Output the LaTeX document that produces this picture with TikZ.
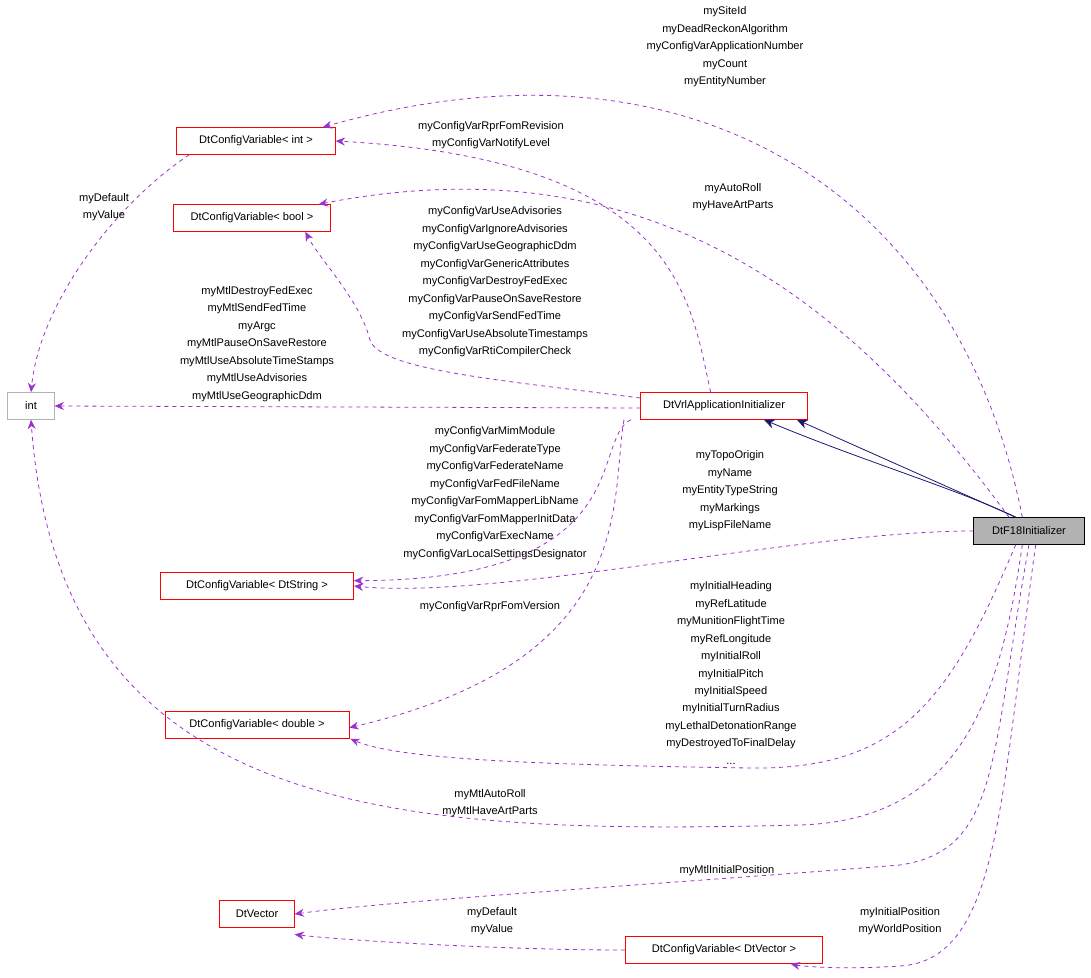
\documentclass[tikz,border=0pt]{standalone}
\usepackage{fontspec}
\setmainfont{Liberation Sans}
\usetikzlibrary{arrows.meta}
\definecolor{dp}{HTML}{9A32CD}
\definecolor{nv}{HTML}{191970}
\begin{document}
\begin{tikzpicture}[x=0.75pt,y=-0.75pt,
 box/.style={draw=red,fill=white,minimum height=20.25pt,inner sep=2pt,font=\fontsize{8.3}{10}\selectfont},
 lab/.style={font=\fontsize{8.3}{13.1}\selectfont,align=center,inner sep=0pt},
 dep/.style={draw=dp,dashed,-{Stealth[length=7pt,width=6pt]},semithick},
 inh/.style={draw=nv,-{Stealth[length=8pt,width=7pt]},semithick}]
\useasboundingbox (0,0) rectangle (1091,977);
\node[box,minimum width=119pt] (ci) at (256,141) {DtConfigVariable< int >};
\node[box,minimum width=118pt] (cb) at (252,218) {DtConfigVariable< bool >};
\node[box,draw=gray!60,minimum width=35pt] (int) at (31,406) {int};
\node[box,minimum width=125pt] (vrl) at (724,406) {DtVrlApplicationInitializer};
\node[box,draw=black,fill=gray!60,minimum width=83pt] (f18) at (1029,531) {DtF18Initializer};
\node[box,minimum width=145pt] (cs) at (257,586) {DtConfigVariable< DtString >};
\node[box,minimum width=138pt] (cd) at (257,725) {DtConfigVariable< double >};
\node[box,minimum width=56pt] (vec) at (257,914) {DtVector};
\node[box,minimum width=148pt] (cv) at (724,950) {DtConfigVariable< DtVector >};
\coordinate (ft) at ([xshift=-10]f18.north);

\draw[inh] (ft) .. controls (960,490) and (860,460) .. ([xshift=30]vrl.south);
\draw[inh] (ft) -- ([xshift=-8]vrl.south east);

\draw[dep] ([xshift=-5]f18.north) .. controls (960,200) and (700,20) .. ([xshift=50]ci.north);
\node[lab] (l1) at (725,47) {mySiteId\\myDeadReckonAlgorithm\\myConfigVarApplicationNumber\\myCount\\myEntityNumber};
\draw[dep] ([xshift=-10]vrl.north) .. controls (690,300) and (680,160) .. (ci.east);
\node[lab] (l2) at (491,135) {myConfigVarRprFomRevision\\myConfigVarNotifyLevel};
\draw[dep] ([xshift=-15]f18.north) .. controls (850,300) and (650,140) .. ([xshift=50]cb.north);
\node[lab] (l3) at (733,197) {myAutoRoll\\myHaveArtParts};
\draw[dep] ([xshift=-50]ci.south) .. controls (120,200) and (40,300) .. (int.north);
\node[lab] (l4) at (104,207) {myDefault\\myValue};
\draw[dep] (vrl.west) ++(0,-8) .. controls (500,380) and (380,370) .. (370,340) .. controls (360,300) and (320,260) .. ([xshift=40]cb.south);
\node[lab] (l5) at (495,282) {myConfigVarUseAdvisories\\myConfigVarIgnoreAdvisories\\myConfigVarUseGeographicDdm\\myConfigVarGenericAttributes\\myConfigVarDestroyFedExec\\myConfigVarPauseOnSaveRestore\\myConfigVarSendFedTime\\myConfigVarUseAbsoluteTimestamps\\myConfigVarRtiCompilerCheck};
\draw[dep] (vrl.west) ++(0,2) -- (int.east);
\node[lab] (l6) at (257,344) {myMtlDestroyFedExec\\myMtlSendFedTime\\myArgc\\myMtlPauseOnSaveRestore\\myMtlUseAbsoluteTimeStamps\\myMtlUseAdvisories\\myMtlUseGeographicDdm};
\draw[dep] ([xshift=-70]vrl.south) .. controls (590,440) and (640,580) .. ([yshift=4]cs.east);
\node[lab] (l7) at (495,493) {myConfigVarMimModule\\myConfigVarFederateType\\myConfigVarFederateName\\myConfigVarFedFileName\\myConfigVarFomMapperLibName\\myConfigVarFomMapperInitData\\myConfigVarExecName\\myConfigVarLocalSettingsDesignator};
\draw[dep] ([xshift=-75]vrl.south) .. controls (610,500) and (640,660) .. ([yshift=-2]cd.east);
\node[lab] (l8) at (490,607) {myConfigVarRprFomVersion};
\draw[dep] (f18.west) .. controls (800,531) and (500,600) .. (cs.east);
\node[lab] (l9) at (730,491) {myTopoOrigin\\myName\\myEntityTypeString\\myMarkings\\myLispFileName};
\draw[dep] ([xshift=-10]f18.south) .. controls (950,700) and (900,770) .. (750,768) .. controls (550,765) and (400,760) .. ([xshift=70]cd.south);
\node[lab] (l10) at (731,673) {myInitialHeading\\myRefLatitude\\myMunitionFlightTime\\myRefLongitude\\myInitialRoll\\myInitialPitch\\myInitialSpeed\\myInitialTurnRadius\\myLethalDetonationRange\\myDestroyedToFinalDelay\\...};
\draw[dep] ([xshift=-5]f18.south) .. controls (1000,700) and (960,820) .. (800,825) .. controls (400,835) and (60,820) .. (int.south);
\node[lab] (l11) at (490,803) {myMtlAutoRoll\\myMtlHaveArtParts};
\draw[dep] (f18.south) .. controls (990,760) and (1000,850) .. (900,865) .. controls (650,885) and (400,900) .. (vec.east);
\node[lab] (l12) at (727,871) {myMtlInitialPosition};
\draw[dep] ([xshift=5]f18.south) .. controls (1000,800) and (1000,960) .. (900,966) .. controls (840,970) and (800,966) .. ([xshift=50]cv.south);
\node[lab] (l13) at (900,921) {myInitialPosition\\myWorldPosition};
\draw[dep] (cv.west) .. controls (500,950) and (340,940) .. ([yshift=-5]vec.south east);
\node[lab] (l14) at (492,921) {myDefault\\myValue};
\end{tikzpicture}
\end{document}
